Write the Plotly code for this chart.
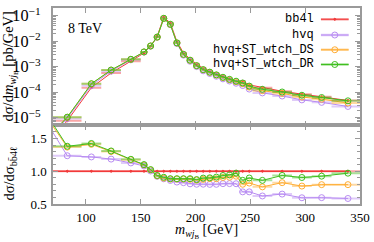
import numpy as np
import plotly.graph_objects as go
from plotly.subplots import make_subplots

# bin centres and half widths [GeV]
m_wjb = [57, 83, 105, 123, 141, 153, 159, 165, 171, 177, 183, 189, 195, 201, 207,
         213, 219, 225, 231, 237, 243, 249, 261, 279, 297, 315, 339]
half_width = [13, 13, 9, 9, 9] + [3] * 17 + [9, 9, 9, 9, 15]

# dsigma/dm [pb/GeV]
bb4l = [3.5e-7, 7.6e-6, 1.51e-4, 5.65e-4, 1.65e-3, 3.45e-3, 6.34e-3, 1.55e-2, 8.7e-2,
        5.19e-2, 9.7e-3, 3.44e-3, 2.03e-3, 1.26e-3, 8.6e-4, 6.78e-4, 5.27e-4, 4.12e-4,
        3.39e-4, 2.78e-4, 2.67e-4, 1.94e-4, 1.51e-4, 1.09e-4, 8.4e-5, 6.7e-5, 4.74e-5]
hvq = [6.8e-7, 9.4e-6, 1.84e-4, 6.7e-4, 1.86e-3, 3.73e-3, 6.37e-3, 1.43e-2, 7.7e-2,
       4.46e-2, 8.1e-3, 2.84e-3, 1.64e-3, 1.01e-3, 6.9e-4, 5.42e-4, 4.22e-4, 3.34e-4,
       2.75e-4, 2.25e-4, 1.83e-4, 1.33e-4, 9.4e-5, 7.1e-5, 5.0e-5, 4.0e-5, 2.77e-5]
hvq_ds = [7.0e-7, 1.04e-5, 2.13e-4, 7.35e-4, 1.94e-3, 3.78e-3, 6.47e-3, 1.44e-2, 7.79e-2,
          4.57e-2, 8.54e-3, 3.03e-3, 1.78e-3, 1.09e-3, 7.53e-4, 6.01e-4, 4.67e-4, 3.73e-4,
          3.08e-4, 2.57e-4, 2.14e-4, 1.59e-4, 1.15e-4, 9.0e-5, 6.5e-5, 5.33e-5, 3.77e-5]
hvq_dr = [7.2e-7, 1.05e-5, 2.15e-4, 7.4e-4, 1.95e-3, 3.8e-3, 6.5e-3, 1.45e-2, 7.9e-2,
          4.6e-2, 8.6e-3, 3.05e-3, 1.8e-3, 1.1e-3, 7.7e-4, 6.1e-4, 4.8e-4, 3.85e-4,
          3.2e-4, 2.7e-4, 2.3e-4, 1.74e-4, 1.30e-4, 1.02e-4, 7.6e-5, 6.2e-5, 4.6e-5]

x_ticks = [100, 150, 200, 250, 300, 350]
ratio_ticks = [0.5, 1.0, 1.5]

series = [
    ("bb4l", bb4l, "#f23a3a", "rgba(242,58,58,0.45)", "circle", 2),
    ("hvq", hvq, "#b88cf2", "rgba(184,140,242,0.45)", "circle-open", 6),
    ("hvq+ST_wtch_DS", hvq_ds, "#ffad33", "rgba(255,173,51,0.45)", "circle-open", 6),
    ("hvq+ST_wtch_DR", hvq_dr, "#3fbf1f", "rgba(63,191,31,0.45)", "circle-open", 6),
]

W, H = 374, 242
ML, MR, MT, MB = 53, 10.5, 4.5, 38
PW, PH = W - ML - MR, H - MT - MB


def px(x):
    return (x - ML) / PW


def py(y):
    return 1 - (y - MT) / PH


fig = make_subplots(rows=2, cols=1, shared_xaxes=True, vertical_spacing=0,
                    row_heights=[0.599, 0.401])

ref = np.array(bb4l)
for name, vals, col, ecol, sym, ms in series:
    v = np.array(vals)
    fig.add_trace(go.Scatter(
        x=m_wjb, y=v, name=name, mode="lines+markers",
        line=dict(color=col, width=1),
        marker=dict(symbol=sym, size=ms, color=col, line=dict(color=col, width=1)),
        error_x=dict(type="data", array=half_width, color=ecol, thickness=2, width=0),
        showlegend=False), row=1, col=1)
    fig.add_trace(go.Scatter(
        x=m_wjb, y=v / ref, name=name, mode="lines+markers",
        line=dict(color=col, width=1 if name != "bb4l" else 1.5),
        marker=dict(symbol=sym, size=ms, color=col, line=dict(color=col, width=1)),
        error_x=dict(type="data", array=half_width, color=ecol, thickness=2, width=0),
        showlegend=False), row=2, col=1)

FR = "#9a9a9a"
axis_common = dict(showline=True, linecolor=FR, linewidth=1.5, mirror="ticks",
                   ticks="inside", tickcolor=FR, ticklen=5, showgrid=False,
                   zeroline=False, tickfont=dict(family="Liberation Serif", size=13, color="black"))

fig.update_xaxes(**axis_common, range=[70, 350], tickvals=x_ticks, ticklabelstandoff=1)
fig.update_xaxes(showticklabels=False, row=1, col=1)

fig.update_yaxes(**axis_common, row=1, col=1, type="log",
                 range=[np.log10(5e-6), np.log10(0.2)],
                 dtick=1, exponentformat="power", ticklabelstandoff=8,
                 minor=dict(ticks="inside", ticklen=3, tickcolor=FR))
fig.update_yaxes(**axis_common, row=2, col=1, range=[0.5, 1.7], tickvals=ratio_ticks,
                 tickformat=".1f", ticklabelstandoff=2,
                 minor=dict(ticks="inside", ticklen=3, tickcolor=FR, dtick=0.1))

tfont = dict(family="Liberation Serif", size=14.5, color="black")
fig.add_annotation(text="dσ/d<i>m</i><sub><i>wj</i><sub>B</sub></sub> [pb/GeV]",
                   xref="paper", yref="paper", x=px(9.5), y=py(64), textangle=-90,
                   xanchor="center", yanchor="middle", showarrow=False, font=tfont)
fig.add_annotation(text="dσ/dσ<sub>bb\u03044ℓ</sub>",
                   xref="paper", yref="paper", x=px(9.5), y=py(173), textangle=-90,
                   xanchor="center", yanchor="middle", showarrow=False, font=tfont)
fig.add_annotation(text="<i>m</i><sub><i>wj</i><sub>B</sub></sub> [GeV]",
                   xref="paper", yref="paper", x=px(208), y=py(231),
                   xanchor="center", yanchor="middle", showarrow=False,
                   font=dict(family="Liberation Serif", size=14, color="black"))
fig.add_annotation(text="8 TeV", xref="paper", yref="paper", x=px(66), y=py(25),
                   xanchor="left", yanchor="middle", showarrow=False,
                   font=dict(family="Liberation Serif", size=14, color="black"))

# legend in gnuplot style: text right-aligned, key sample to its right
leg_y = [16, 32, 47, 62]
for (name, vals, col, ecol, sym, ms), ly in zip(series, leg_y):
    fig.add_annotation(text=name, xref="paper", yref="paper", x=px(319), y=py(ly),
                       xanchor="right", yanchor="middle", showarrow=False,
                       font=dict(family="Liberation Mono", size=12, color="black"))
    fig.add_shape(type="line", xref="paper", yref="paper", x0=px(324), x1=px(352),
                  y0=py(ly), y1=py(ly), line=dict(color=ecol, width=2.5))
    fig.add_shape(type="line", xref="paper", yref="paper", x0=px(324), x1=px(352),
                  y0=py(ly), y1=py(ly), line=dict(color=col, width=1))
    r = ms / 2
    fig.add_shape(type="circle", xref="paper", yref="paper", xsizemode="pixel",
                  ysizemode="pixel", xanchor=px(338), yanchor=py(ly),
                  x0=-r, x1=r, y0=-r, y1=r,
                  line=dict(color=col, width=1),
                  fillcolor=col if sym == "circle" else "rgba(0,0,0,0)")

fig.update_layout(
    width=W, height=H,
    margin=dict(l=ML, r=MR, t=MT, b=MB),
    paper_bgcolor="white", plot_bgcolor="white",
    font=dict(family="Liberation Serif", size=13, color="black"),
    showlegend=False,
)

fig.write_html("out.html", config={"displayModeBar": False},
               post_script="document.body.style.margin='0';")
